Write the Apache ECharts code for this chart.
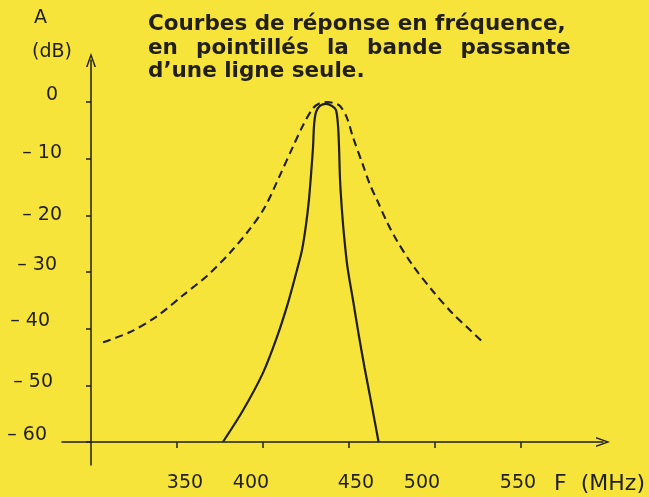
<!DOCTYPE html>
<html>
<head>
<meta charset="utf-8">
<script src="https://cdn.jsdelivr.net/npm/echarts@6/dist/echarts.min.js"></script>
<style>
  html, body { margin: 0; padding: 0; background: #f7e43a; }
  #chart { width: 649px; height: 497px; }
</style>
</head>
<body>
<div id="chart"></div>
<script>
// Frequency response of the coupled filter (solid) and of a single line (dashed).
const freqTicks = [350, 400, 450, 500, 550];          // MHz
const dbTicks = [0, -10, -20, -30, -40, -50, -60];    // dB

// Single line passband (dashed)
const singleFreq = [307.0, 322.7, 338.4, 353.5, 367.4, 380.8, 392.4, 401.2, 409.9, 417.4, 423.3, 429.1, 433.1, 437.2,
                    441.3, 444.8, 448.8, 452.3, 458.1, 462.2, 466.3, 472.1, 477.9, 487.2, 498.8, 510.5, 519.2, 527.9];
const singleDb   = [-42.4, -40.6, -37.8, -34.1, -30.7, -26.6, -22.4, -18.5, -12.9, -7.9, -4.1, -1.1, -0.2, 0,
                    -0.2, -0.7, -2.8, -6.2, -11.1, -14.6, -17.3, -21.2, -24.5, -28.9, -33.4, -37.4, -39.9, -42.4];

// Coupled filter response (solid)
const filterFreq = [376.7, 388.4, 400.0, 408.1, 414.5, 419.8, 422.7, 425.0, 426.7, 427.9, 429.1, 429.7, 430.8, 433.1, 436.6,
                    440.1, 442.4, 443.6, 444.2, 444.8, 445.9, 447.1, 449.1, 452.3, 455.5, 459.0, 463.4, 467.2];
const filterDb   = [-60, -54.4, -47.8, -41.5, -35.5, -29.6, -26.1, -21.7, -17.3, -12.9, -7.9, -4.1, -1.8, -0.7, -0.35,
                    -0.7, -1.4, -4.1, -7.9, -13.8, -19.1, -23.5, -29.1, -34.9, -40.8, -46.8, -53.8, -60];

// The axes cross at 300 MHz / -60 dB: values are expressed relative to that origin
// so both axis lines can sit on the other axis' zero.
const F0 = 300, A0 = -60;
const toXY = (fs, as) => fs.map((f, i) => [f - F0, as[i] - A0]);

const ink = '#211f18';
const labelFont = '"DejaVu Sans", sans-serif';

// hand-lettered label nudges (px)
const xNudge = [8, -12, 7, -13, -3];
const yNudgeX = [4, 0, 0, 5, 12, 9, 15];
const yNudgeY = [-7, -6, 0, -7, -8, -3, -7];

const xRich = {}, yRich = {};
xNudge.forEach((o, i) => {
  xRich['x' + i] = { fontFamily: labelFont, fontSize: 19, color: ink,
    padding: o >= 0 ? [0, 0, 0, 2 * o] : [0, -2 * o, 0, 0] };
});
yNudgeX.forEach((o, i) => {
  const v = yNudgeY[i];
  yRich['y' + i] = { fontFamily: labelFont, fontSize: 19, color: ink,
    padding: [v > 0 ? 2 * v : 0, o, v < 0 ? -2 * v : 0, 0] };
});

const arrow = 'path://M0,14 L5,0 L10,14 L8.4,14 L5,4 L1.6,14 Z';
const gap = '\u2002 ';   // justified word spacing for the second title line

const chart = echarts.init(document.getElementById('chart'), null, { renderer: 'canvas' });
chart.setOption({
  backgroundColor: '#f7e43a',
  animation: false,
  title: {
    text: 'Courbes de réponse en fréquence,\n' +
          ['en', 'pointillés', 'la', 'bande', 'passante'].join(gap) +
          '\nd\u2019une ligne seule.',
    left: 143, top: 8,
    textStyle: { fontFamily: '"DejaVu Sans", sans-serif', fontWeight: 'bold', fontSize: 21.5,
                 lineHeight: 23.5, color: ink }
  },
  graphic: [
    { type: 'text', left: 34, top: 9, style: { text: 'A', font: '19px ' + labelFont, fill: ink } },
    { type: 'text', left: 32, top: 43, style: { text: '(dB)', font: '19px ' + labelFont, fill: ink } }
  ],
  grid: { left: 62, right: 46, top: 60, bottom: 32, outerBoundsMode: 'none' },
  xAxis: {
    type: 'value',
    min: (62 - 91) / 1.72,
    max: (603 - 91) / 1.72,
    splitLine: { show: false },
    axisLine: { onZero: true, symbol: ['none', arrow], symbolSize: [10, 14],
                lineStyle: { color: ink, width: 1.5 } },
    axisTick: { customValues: freqTicks.map(f => f - F0), length: 6,
                lineStyle: { color: ink, width: 1.5 } },
    axisLabel: {
      customValues: freqTicks.map(f => f - F0),
      margin: 9,
      formatter: v => { const i = freqTicks.indexOf(Math.round(v + F0)); return '{x' + i + '|' + Math.round(v + F0) + '}'; },
      rich: xRich
    },
    name: 'F  (MHz)',
    nameLocation: 'end',
    nameGap: 42,
    nameTextStyle: { fontFamily: labelFont, fontSize: 22, color: ink, align: 'right',
                     verticalAlign: 'top', padding: [31, 0, 0, 0] }
  },
  yAxis: {
    type: 'value',
    min: -(465 - 442) / 5.667,
    max: (442 - 60) / 5.667,
    splitLine: { show: false },
    axisLine: { onZero: true, symbol: ['none', arrow], symbolSize: [10, 14],
                lineStyle: { color: ink, width: 1.5 } },
    axisTick: { customValues: dbTicks.map(a => a - A0), length: 5,
                lineStyle: { color: ink, width: 1.5 } },
    axisLabel: {
      customValues: dbTicks.map(a => a - A0),
      margin: 0,
      formatter: v => {
        const a = Math.round(v + A0);
        const i = dbTicks.indexOf(a);
        return '{y' + i + '|' + (a === 0 ? '0' : '\u2013 ' + Math.abs(a)) + '}';
      },
      rich: yRich
    }
  },
  series: [
    {
      name: 'ligne seule',
      type: 'line',
      data: toXY(singleFreq, singleDb),
      showSymbol: false,
      smooth: 0.3,
      lineStyle: { color: ink, width: 2.1, type: [8, 5] }
    },
    {
      name: 'filtre',
      type: 'line',
      data: toXY(filterFreq, filterDb),
      showSymbol: false,
      smooth: 0.3,
      lineStyle: { color: ink, width: 2.2 }
    }
  ]
});
</script>
</body>
</html>
